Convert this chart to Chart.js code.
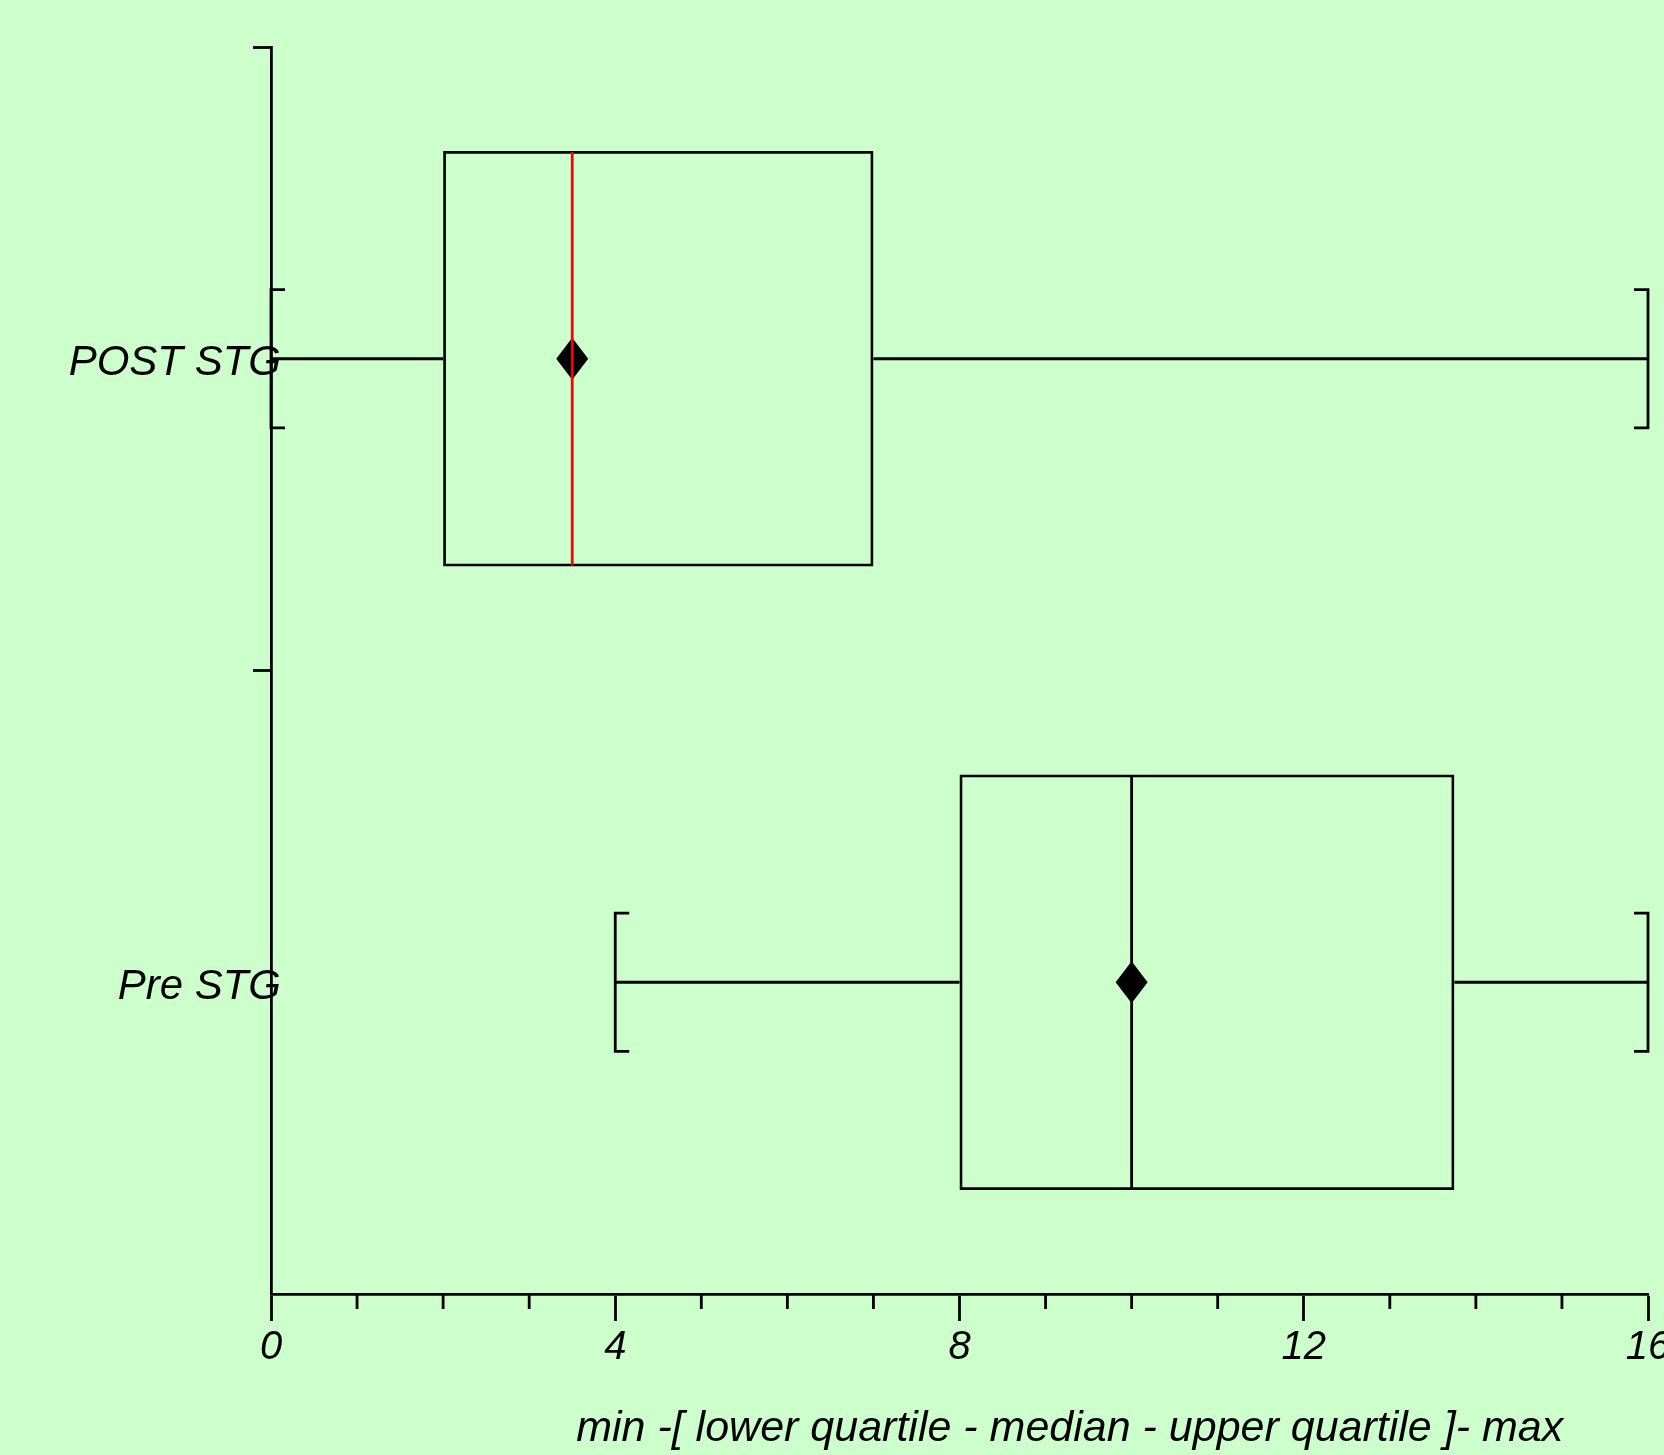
<!DOCTYPE html>
<html>
<head>
<meta charset="utf-8">
<title>Box plot</title>
<script src="https://cdn.jsdelivr.net/npm/chart.js@4/dist/chart.umd.min.js"></script>
<style>
  html, body { margin: 0; padding: 0; background: #ccffcc; overflow: hidden; }
  #wrap { position: relative; width: 1664px; height: 1455px; }
</style>
</head>
<body>
<div id="wrap"><canvas id="boxChart"></canvas></div>
<script>
// --- Data ---
const categories = ['POST STG', 'Pre STG'];
const minValues = [0, 4];
const q1Values = [2, 8];
const medianValues = [3.5, 10];
const q3Values = [7, 13.75];
const maxValues = [16, 16];
const meanValues = [3.5, 10];
const majorTicks = [0, 4, 8, 12, 16];
const xTitle = 'min -[ lower quartile - median - upper quartile ]- max';

// --- Style ---
const medianColors = ['#ff0000', '#000000'];
const fontFamily = '"Liberation Sans", Arial, sans-serif';
const lw = 2.8;

// draws whiskers, caps, mean diamonds, medians, minor ticks and the axis texts
const boxPlotParts = {
    id: 'boxPlotParts',
    beforeDraw(chart) {
        const ctx = chart.ctx;
        ctx.save();
        ctx.fillStyle = '#ccffcc';
        ctx.fillRect(0, 0, chart.width, chart.height);
        ctx.restore();
    },
    afterDatasetsDraw(chart) {
        const { ctx, scales: { x, y } } = chart;
        const band = Math.abs(y.getPixelForValue(1) - y.getPixelForValue(0));
        const capHalf = band * 0.111;
        const arm = 14;
        ctx.save();
        ctx.lineWidth = lw;
        ctx.strokeStyle = '#000';
        ctx.lineCap = 'butt';
        categories.forEach((c, i) => {
            const yc = y.getPixelForValue(i);
            const pMin = x.getPixelForValue(minValues[i]);
            const pQ1 = x.getPixelForValue(q1Values[i]);
            const pQ3 = x.getPixelForValue(q3Values[i]);
            const pMax = x.getPixelForValue(maxValues[i]);
            const pMed = x.getPixelForValue(medianValues[i]);
            const pMean = x.getPixelForValue(meanValues[i]);
            const half = band * 0.6667 / 2;

            // whiskers
            ctx.beginPath();
            ctx.moveTo(pMin, yc); ctx.lineTo(pQ1, yc);
            ctx.moveTo(pQ3, yc); ctx.lineTo(pMax, yc);
            ctx.stroke();

            // caps
            ctx.beginPath();
            ctx.moveTo(pMin + arm, yc - capHalf);
            ctx.lineTo(pMin, yc - capHalf);
            ctx.lineTo(pMin, yc + capHalf);
            ctx.lineTo(pMin + arm, yc + capHalf);
            ctx.moveTo(pMax - arm, yc - capHalf);
            ctx.lineTo(pMax, yc - capHalf);
            ctx.lineTo(pMax, yc + capHalf);
            ctx.lineTo(pMax - arm, yc + capHalf);
            ctx.stroke();

            // mean diamond
            ctx.fillStyle = '#000';
            ctx.beginPath();
            ctx.moveTo(pMean, yc - 21);
            ctx.lineTo(pMean + 16, yc);
            ctx.lineTo(pMean, yc + 21);
            ctx.lineTo(pMean - 16, yc);
            ctx.closePath();
            ctx.fill();

            // median
            ctx.strokeStyle = medianColors[i];
            ctx.beginPath();
            ctx.moveTo(pMed, yc - half + 1);
            ctx.lineTo(pMed, yc + half - 1);
            ctx.stroke();
            ctx.strokeStyle = '#000';
        });

        // minor x ticks
        const bottom = chart.chartArea.bottom;
        ctx.beginPath();
        x.ticks.forEach(t => {
            if (!majorTicks.includes(t.value)) {
                const px = x.getPixelForValue(t.value);
                ctx.moveTo(px, bottom);
                ctx.lineTo(px, bottom + 15);
            }
        });
        ctx.stroke();
        ctx.restore();
    },
    afterDraw(chart) {
        const { ctx, chartArea, scales: { y } } = chart;
        ctx.save();
        ctx.fillStyle = '#000';
        ctx.textBaseline = 'middle';

        // category labels (they run over the axis line, so not clipped to the scale)
        ctx.font = 'italic 42px ' + fontFamily;
        ctx.textAlign = 'right';
        categories.forEach((c, i) => {
            ctx.fillText(c, chartArea.left + 10, y.getPixelForValue(i) + 5);
        });

        // x axis title
        ctx.font = 'italic 43px ' + fontFamily;
        ctx.textAlign = 'center';
        const cx = chartArea.left + (chartArea.right - chartArea.left) * 0.58;
        ctx.fillText(xTitle, cx, chart.height - 26);
        ctx.restore();
    }
};

document.addEventListener('DOMContentLoaded', function() {
    const ctxBox = document.getElementById('boxChart');
    new Chart(ctxBox.getContext('2d'), {
        type: 'bar',
        data: {
            labels: categories,
            datasets: [{
                label: 'box',
                data: categories.map((c, i) => [q1Values[i], q3Values[i]]),
                backgroundColor: 'rgba(0,0,0,0)',
                borderColor: '#000',
                borderWidth: lw,
                borderSkipped: false,
                barPercentage: 0.6667,
                categoryPercentage: 1
            }]
        },
        plugins: [boxPlotParts],
        options: {
            indexAxis: 'y',
            responsive: true,
            maintainAspectRatio: false,
            animation: false,
            events: [],
            layout: { padding: { top: 47, right: 16, left: 0, bottom: 0 } },
            plugins: {
                legend: { display: false },
                tooltip: { enabled: false },
                title: { display: false }
            },
            scales: {
                x: {
                    type: 'linear',
                    min: 0,
                    max: 16,
                    afterFit(scale) {
                        scale.height = 161;
                        scale.paddingLeft = 0;
                        scale.paddingRight = 0;
                    },
                    border: { display: true, color: '#000', width: lw },
                    grid: {
                        drawOnChartArea: false,
                        drawTicks: true,
                        tickLength: 27,
                        tickWidth: lw,
                        tickColor: ctx => (ctx.tick && majorTicks.includes(ctx.tick.value)) ? '#000' : 'rgba(0,0,0,0)'
                    },
                    ticks: {
                        stepSize: 1,
                        autoSkip: false,
                        maxRotation: 0,
                        padding: 3,
                        color: '#000',
                        font: { family: fontFamily, size: 40, style: 'italic' },
                        callback: v => majorTicks.includes(v) ? String(v) : ''
                    }
                },
                y: {
                    type: 'category',
                    afterFit(scale) {
                        scale.width = 271;
                        scale.paddingTop = 0;
                        scale.paddingBottom = 0;
                    },
                    border: { display: true, color: '#000', width: lw },
                    grid: {
                        offset: true,
                        drawOnChartArea: false,
                        tickLength: 18,
                        tickWidth: lw,
                        tickColor: ctx => ctx.index === undefined ? 'rgba(0,0,0,0)' : '#000'
                    },
                    ticks: { display: false }
                }
            }
        }
    });
});
</script>
</body>
</html>
